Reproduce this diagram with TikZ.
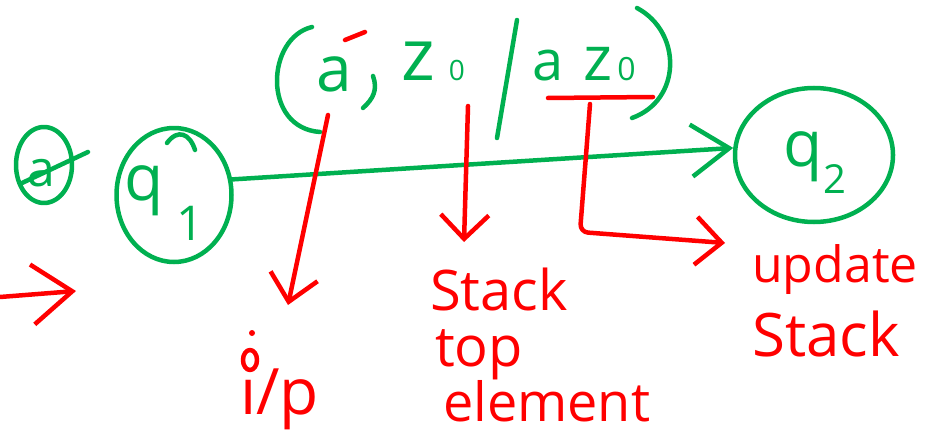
\documentclass[tikz,border=0pt]{standalone}
\usepackage{fontspec}
\setmainfont{Open Sans}
\usetikzlibrary{arrows.meta,shapes.geometric}
\definecolor{hgreen}{RGB}{0,176,80}
\definecolor{hred}{RGB}{255,0,0}
\newcommand\hfs[1]{\fontsize{#1}{#1}\selectfont}
\begin{document}
\begin{tikzpicture}[x=1pt,y=-1pt,
  gline/.style={draw=hgreen,line width=4.5pt,line cap=round,line join=round},
  rline/.style={draw=hred,line width=4.5pt,line cap=round,line join=round},
  state/.style={ellipse,gline,inner sep=0pt},
  gtext/.style={text=hgreen,inner sep=0pt,anchor=base west},
  rtext/.style={text=hred,inner sep=0pt,anchor=base west},
  gbarb/.style={-{Straight Barb[length=38pt,width=52pt]}},
  rbarb/.style={-{Straight Barb[length=#1,width=48pt]}},
]
\useasboundingbox (0,0) rectangle (936,433);

% initial (crossed-out) mark
\node[state,minimum width=56pt,minimum height=76pt] (q0) at (44,165) {};
\node[gtext,font=\hfs{50}] (q0t) at (27,186) {a};
\draw[gline] (22,183) -- (88,152);

% state q1
\node[state,minimum width=115pt,minimum height=134pt] (q1) at (174,195) {};
\node[gtext,font=\hfs{64}] (q1t) at (124,200) {q};
\node[gtext,font=\hfs{48}] (q1s) at (176,240) {1};
\draw[gline] (167,143) .. controls (178,128) and (190,134) .. (195,150);

% state q2
\node[state,minimum width=158pt,minimum height=134pt] (q2) at (814,155) {};
\node[gtext,font=\hfs{64}] (q2t) at (783,166) {q};
\node[gtext,font=\hfs{40}] (q2s) at (823,193) {2};

% transition
\draw[gline,gbarb] (q1.15) -- (q2.175);

% transition label ( a , z0 / a z0 )
\draw[gline] (312,27) .. controls (266,38) and (262,128) .. (320,132);
\node[gtext,font=\hfs{64}] (la) at (316,92) {a};
\draw[gline] (373,76) .. controls (378,90) and (373,99) .. (363,108);
\node[gtext,font=\hfs{72}] (lz) at (401,81) {z\hspace{14pt}{\hfs{28}0}};
\draw[gline] (517,20) -- (497,138);
\node[gtext,font=\hfs{56}] (laz) at (532,81) {a\hspace{20pt}{\hfs{62}z}\hspace{5pt}{\hfs{32}0}};
\draw[gline] (637,8) .. controls (682,32) and (682,100) .. (632,118);
\draw[rline] (345,40) -- (365,32);
\draw[rline] (548,98) -- (653,97);

% red arrows
\coordinate (a1s) at (328,115);
\coordinate (a1e) at (288,305);
\draw[rline,rbarb=26pt] (a1s) -- (a1e);
\coordinate (a2s) at (468,106);
\coordinate (a2e) at (464,242);
\draw[rline,rbarb=24pt] (a2s) -- (a2e);
\coordinate (a3s) at (590,104);
\coordinate (a3e) at (725,243);
\draw[rline,rbarb=26pt,rounded corners=8pt] (a3s) -- ++(-10,128) -- (a3e);
\coordinate (a4s) at (0,297);
\coordinate (a4e) at (76,291);
\draw[rline,-{Straight Barb[length=40pt,width=60pt]}] (a4s) -- (a4e);

% red texts
\node[rtext,font=\hfs{64}] (ip) at (240,414) {ı/p};
\draw[rline] (250,360) ellipse (7 and 10);
\fill[hred] (252,333) circle (3);
\node[rtext,font=\hfs{56}] (stk1) at (430,310) {Stack};
\node[rtext,font=\hfs{56}] (stk2) at (435,366) {top};
\node[rtext,font=\hfs{54}] (stk3) at (443,421) {element};
\node[rtext,font=\hfs{50}] (upd1) at (752,282) {update};
\node[rtext,font=\hfs{60}] (upd2) at (752,356) {Stack};
\end{tikzpicture}
\end{document}
